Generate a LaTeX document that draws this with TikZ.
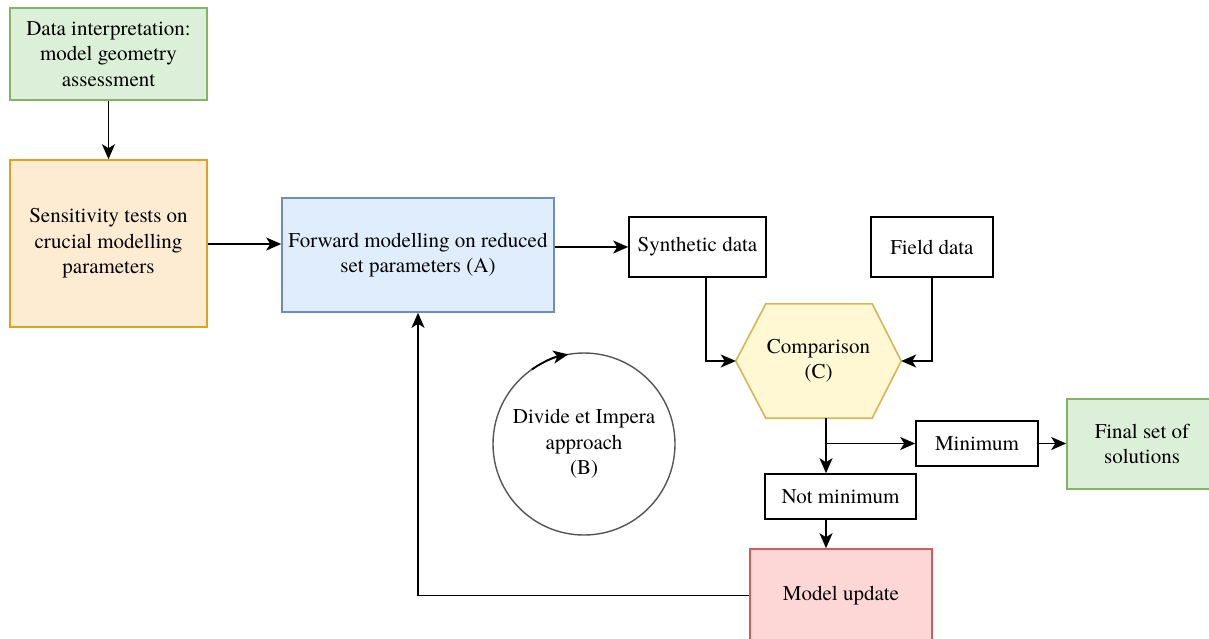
\documentclass[tikz,border=0pt]{standalone}
\usepackage{fontspec}
\setmainfont{TeX Gyre Termes}
\usetikzlibrary{arrows.meta,calc}
\definecolor{gfill}{HTML}{DCEFD8}
\definecolor{gline}{HTML}{82B366}
\definecolor{ofill}{HTML}{FDEBD2}
\definecolor{oline}{HTML}{E0A020}
\definecolor{bfill}{HTML}{DFEDFC}
\definecolor{bline}{HTML}{6C8EBF}
\definecolor{yfill}{HTML}{FFF8D2}
\definecolor{yline}{HTML}{D6B656}
\definecolor{rfill}{HTML}{FDD6D6}
\definecolor{rline}{HTML}{D65A5A}
\definecolor{cline}{HTML}{555555}
\tikzset{
  box/.style={draw, line width=1.6pt, inner sep=0pt, align=center, anchor=center},
  tip/.style={-{Stealth[length=15pt,width=13pt,inset=4pt]}},
  conn/.style={line width=1.8pt, tip}
}
\begin{document}
\begin{tikzpicture}[x=1pt,y=-1pt,font=\fontsize{21}{25.5}\selectfont]
\useasboundingbox (0,0) rectangle (1209,638);
\fill[white] (0,0) rectangle (1209,638);

\node[box, fill=gfill, draw=gline, minimum width=197, minimum height=92] (data) at (108.5,54)
  {Data interpretation:\\model geometry\\assessment};
\node[box, fill=ofill, draw=oline, minimum width=197, minimum height=167] (sens) at (108.5,243.5)
  {Sensitivity tests on\\crucial modelling\\parameters};
\node[box, fill=bfill, draw=bline, minimum width=272, minimum height=114] (fwd) at (418,255)
  {Forward modelling on reduced\\set parameters (A)};
\node[box, fill=white, minimum width=137, minimum height=60] (syn) at (697.5,247) {Synthetic data};
\node[box, fill=white, minimum width=122, minimum height=60] (field) at (932,247) {Field data};

\node[inner sep=0pt, minimum width=165, minimum height=114, align=center] (cmp) at (818.5,361) {};
\fill[yfill, draw=yline, line width=1.6pt]
  (cmp.west) -- ($(cmp.north west)+(30,0)$) -- ($(cmp.north east)+(-29,0)$) -- (cmp.east)
  -- ($(cmp.south east)+(-29,0)$) -- ($(cmp.south west)+(30,0)$) -- cycle;
\node[align=center, inner sep=0pt] (cmptxt) at (cmp.center) {Comparison\\(C)};

\node[circle, draw=cline, line width=1.4pt, minimum size=182, inner sep=0pt, align=center] (circ) at (584,444)
  {Divide et Impera\\approach\\(B)};
\draw[line width=1.8pt, tip]
  ([shift={(-125:91)}]circ.center) arc[start angle=-125, end angle=-100, radius=91];

\node[box, fill=white, minimum width=122, minimum height=45] (minb) at (977,443.5) {Minimum};
\node[box, fill=white, minimum width=151, minimum height=45] (notmin) at (840.5,496.5) {Not minimum};
\node[box, fill=gfill, draw=gline, minimum width=150, minimum height=90] (final) at (1142,444)
  {Final set of\\solutions};
\node[box, fill=rfill, draw=rline, minimum width=182, minimum height=93] (upd) at (841,595.5) {Model update};

\coordinate (down) at ([xshift=7.5]cmp.south);
\coordinate (br) at (down |- minb.west);

\draw[conn] (data.south) -- (sens.north);
\draw[conn] ([yshift=-0.5]sens.east) -- ([yshift=-0.5]sens.east -| fwd.west);
\draw[conn] (syn.west -| fwd.east) -- (syn.west);
\draw[conn] ([xshift=8.5]syn.south) |- (cmp.west);
\draw[conn] (field.south) |- (cmp.east);
\draw[conn] (down) -- (down |- notmin.north);
\draw[conn] (br) -- (minb.west);
\draw[conn] (minb.east) -- (minb.east -| final.west);
\draw[conn] (down |- notmin.south) -- (down |- upd.north);
\draw[conn] (upd.west) -| (fwd.south);
\end{tikzpicture}
\end{document}
